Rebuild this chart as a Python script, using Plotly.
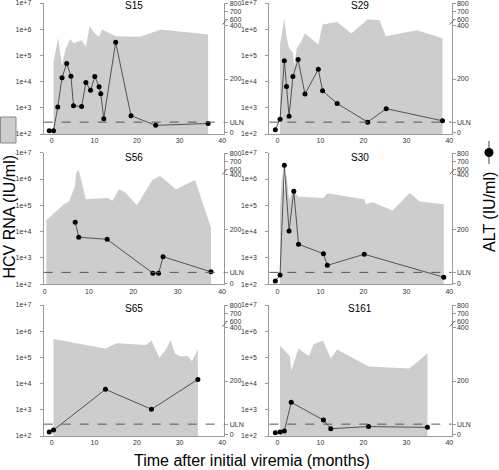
import plotly.graph_objects as go

# ---------------- data ----------------
patients = ["S15", "S29", "S56", "S30", "S65", "S161"]

S15_rna_t = [0.4, 1.5, 2.4, 3.2, 4.3, 5.1, 7.0, 8.0, 8.9, 10.1, 11.1, 11.8, 15.0, 20.8, 25.6, 36.7]
S15_rna = [5.8e4, 4.7e5, 4.3e4, 1.6e5, 4.2e5, 2.9e5, 3.8e5, 2.1e5, 1.3e6, 6.9e5, 5.1e5, 9.8e5, 5.4e5, 5.1e5, 9.8e5, 6.3e5]
S15_alt_t = [-0.6, 0.4, 1.4, 2.4, 3.5, 4.5, 5.1, 7.0, 8.0, 9.1, 10.1, 11.1, 11.5, 12.2, 15.0, 18.6, 24.4, 36.7]
S15_alt = [8, 8, 96, 205, 258, 210, 101, 98, 187, 158, 209, 171, 145, 53, 336, 64, 28, 35]

S29_rna_t = [0.6, 1.6, 2.1, 2.7, 3.6, 3.9, 4.5, 5.3, 6.4, 9.5, 10.5, 13.9, 17.2, 21.0, 23.8, 25.2, 32.4, 38.4]
S29_rna = [2.5e5, 2.6e6, 5.1e5, 1.9e5, 1.3e5, 4.0e4, 1.9e5, 2.9e5, 6.9e5, 2.6e5, 1.5e6, 1.9e6, 6.9e5, 2.4e6, 2.2e6, 5.4e5, 9.1e5, 4.5e5]
S29_alt_t = [-0.5, 0.6, 1.6, 2.1, 2.7, 3.6, 4.8, 6.4, 9.5, 10.5, 13.9, 21.0, 25.3, 38.4]
S29_alt = [12, 51, 268, 172, 62, 209, 272, 144, 236, 156, 109, 40, 90, 45]

S56_rna_t = [0.4, 4.4, 5.5, 6.8, 7.1, 7.7, 9.3, 14.2, 15.3, 16.8, 18.2, 20.8, 24.3, 26.0, 27.2, 29.6, 33.9, 37.5]
S56_rna = [2.8e4, 1.1e5, 1.4e5, 5.1e5, 1.7e6, 2.2e6, 1.7e5, 1.9e5, 1.5e5, 4.1e5, 3.1e5, 1.0e5, 9.1e5, 1.3e6, 9.1e5, 4.1e5, 9.1e5, 1.4e4]
S56_alt_t = [6.9, 7.7, 14.1, 24.4, 25.7, 26.7, 37.5]
S56_alt = [225, 170, 162, 37, 37, 98, 42]

S30_rna_t = [0.6, 1.1, 1.6, 2.1, 2.7, 3.6, 4.9, 10.7, 11.6, 20.2, 20.6, 22.2, 26.8, 30.8, 33.1, 38.7]
S30_rna = [7.8e4, 1.7e6, 3.3e5, 1.7e6, 1.6e5, 3.8e5, 2.1e5, 1.9e5, 2.9e5, 1.7e5, 1.1e5, 1.3e5, 6.3e4, 3.0e5, 1.4e5, 1.1e5]
S30_alt_t = [-0.5, 0.6, 1.6, 2.7, 3.8, 4.9, 10.7, 11.6, 20.2, 38.7]
S30_alt = [8, 30, 653, 193, 340, 144, 109, 66, 107, 22]

S65_rna_t = [0.4, 12.6, 15.2, 22.2, 23.4, 25.3, 26.8, 27.9, 28.9, 30.1, 32.0, 32.9, 34.3]
S65_rna = [5.0e5, 2.2e5, 3.5e5, 3.0e5, 4.4e5, 9.8e4, 2.0e5, 4.6e5, 1.4e5, 1.1e5, 1.1e5, 7.2e4, 2.0e5]
S65_alt_t = [-0.6, 0.4, 12.6, 23.4, 34.3]
S65_alt = [11, 18, 169, 95, 206]

S161_rna_t = [0.6, 2.9, 3.2, 4.9, 7.3, 8.4, 10.6, 12.4, 13.9, 21.2, 30.7, 34.9]
S161_rna = [2.8e5, 1.1e5, 3.1e4, 2.2e5, 1.1e5, 3.2e5, 4.4e5, 9.1e4, 2.0e5, 4.5e4, 3.8e4, 1.4e5]
S161_alt_t = [-0.5, 0.6, 1.6, 3.2, 10.7, 12.4, 21.2, 34.9]
S161_alt = [8, 11, 15, 121, 55, 23, 31, 28]

ULN = 40
rna_ticks = [1e2, 1e3, 1e4, 1e5, 1e6, 1e7]
rna_ticktext = ["1e+2", "1e+3", "1e+4", "1e+5", "1e+6", "1e+7"]
alt_ticks = [0, ULN, 200, 400, 600, 700, 800]
alt_ticktext = ["0", "ULN", "200", "400", "600", "700", "800"]
x_ticks = [0, 10, 20, 30, 40]

data = {
    "S15": (S15_rna_t, S15_rna, S15_alt_t, S15_alt),
    "S29": (S29_rna_t, S29_rna, S29_alt_t, S29_alt),
    "S56": (S56_rna_t, S56_rna, S56_alt_t, S56_alt),
    "S30": (S30_rna_t, S30_rna, S30_alt_t, S30_alt),
    "S65": (S65_rna_t, S65_rna, S65_alt_t, S65_alt),
    "S161": (S161_rna_t, S161_rna, S161_alt_t, S161_alt),
}

# ---------------- layout helpers ----------------
W, H = 499, 470
RNA_FLOOR = 1e2


def alt_pos(v):
    """broken ALT axis: linear 0-400, compressed 600-800"""
    return v if v <= 400 else 420 + (v - 600) * 0.3


ALT_RANGE = [-4, 482]

col_dom = [[43.7 / W, 224.3 / W], [269.3 / W, 451.5 / W]]
row_dom = [[1 - 134 / H, 1 - 3 / H], [1 - 284.3 / H, 1 - 152.7 / H], [1 - 436 / H, 1 - 305 / H]]
title_off = [2.5, 4.8, 3.2]
x_ranges = {"S56": [-0.2, 40.5]}

FONT = "Liberation Sans, Arial, sans-serif"
AXC = "#9a9a9a"
TXC = "#333333"

fig = go.Figure()
layout = dict(
    template="none",
    width=W, height=H, autosize=False,
    margin=dict(l=0, r=0, t=0, b=0, pad=0),
    paper_bgcolor="white", plot_bgcolor="white",
    showlegend=False,
    font=dict(family=FONT, size=7, color=TXC),
)
shapes = []
annotations = []

for i, name in enumerate(patients):
    k = i + 1
    ka = k + 6
    row, col = i // 2, i % 2
    rt, rv, at, av = data[name]
    xn = "x" if k == 1 else f"x{k}"
    yn = "y" if k == 1 else f"y{k}"
    yan = f"y{ka}"

    # RNA area (closed polygon down to axis floor)
    fig.add_trace(go.Scatter(
        x=[rt[0]] + rt + [rt[-1]],
        y=[RNA_FLOOR] + rv + [RNA_FLOOR],
        fill="toself", fillcolor="#cdcdcd", mode="lines",
        line=dict(width=0, color="#cdcdcd"),
        xaxis=xn, yaxis=yn, hoverinfo="skip",
    ))
    # ALT line
    fig.add_trace(go.Scatter(
        x=at, y=[alt_pos(v) for v in av],
        mode="lines+markers",
        line=dict(color="#444444", width=0.9),
        marker=dict(color="black", size=5),
        xaxis=xn, yaxis=yan,
    ))

    xkey = "xaxis" if k == 1 else f"xaxis{k}"
    ykey = "yaxis" if k == 1 else f"yaxis{k}"
    yakey = f"yaxis{ka}"
    layout[xkey] = dict(
        domain=col_dom[col], anchor=yn,
        range=x_ranges.get(name, [-1.9, 40.5]),
        tickvals=x_ticks, ticks="", showline=True, linecolor=AXC, linewidth=1,
        showgrid=False, zeroline=False, tickfont=dict(size=7, color=TXC),
        automargin=False, ticklabeloverflow="allow",
    )
    layout[ykey] = dict(
        domain=row_dom[row], anchor=xn, type="log", range=[2, 7],
        tickvals=rna_ticks, ticktext=rna_ticktext,
        ticks="outside", ticklen=3, tickcolor=AXC,
        showline=True, linecolor=AXC, linewidth=1, showgrid=False, zeroline=False,
        tickfont=dict(size=7, color=TXC), ticklabelstandoff=7, automargin=False,
        ticklabeloverflow="allow",
    )
    layout[yakey] = dict(
        overlaying=yn, anchor=xn, side="right", range=ALT_RANGE,
        tickvals=[alt_pos(v) for v in alt_ticks], ticktext=alt_ticktext,
        ticks="outside", ticklen=3, tickcolor=AXC,
        showline=True, linecolor=AXC, linewidth=1, showgrid=False, zeroline=False,
        tickfont=dict(size=7, color=TXC), automargin=False,
        ticklabeloverflow="allow",
    )
    # ULN dashed line
    shapes.append(dict(
        type="line", xref=f"{xn} domain", yref=yan, x0=0, x1=1,
        y0=alt_pos(ULN), y1=alt_pos(ULN),
        line=dict(color="#555555", width=1, dash="dash"), layer="above",
    ))
    # axis break mark
    shapes.append(dict(
        type="line", xref=f"{xn} domain", yref=yan, x0=0.99, x1=1.012,
        y0=402, y1=418, line=dict(color="#666666", width=1),
    ))
    # panel title
    annotations.append(dict(
        text=name, xref="paper", yref="paper",
        x=(col_dom[col][0] + col_dom[col][1]) / 2,
        y=row_dom[row][1] - title_off[row] / H, xanchor="center", yanchor="middle",
        showarrow=False, font=dict(size=10, color="black", family=FONT),
    ))

# axis titles
annotations.append(dict(
    text="HCV RNA (IU/ml)", xref="paper", yref="paper", x=8.5 / W, y=1 - 217 / H,
    textangle=-90, showarrow=False, xanchor="center", yanchor="middle",
    font=dict(size=16, color="black", family=FONT),
))
annotations.append(dict(
    text="ALT (IU/ml)", xref="paper", yref="paper", x=489 / W, y=1 - 212 / H,
    textangle=-90, showarrow=False, xanchor="center", yanchor="middle",
    font=dict(size=16, color="black", family=FONT),
))
annotations.append(dict(
    text="Time after initial viremia (months)", xref="paper", yref="paper",
    x=252 / W, y=1 - 460 / H, showarrow=False, xanchor="center", yanchor="middle",
    font=dict(size=16, color="black", family=FONT),
))

# legend symbols
shapes.append(dict(type="rect", xref="paper", yref="paper",
                   x0=0.5 / W, x1=16 / W, y0=1 - 143 / H, y1=1 - 117 / H,
                   fillcolor="#cdcdcd", line=dict(color="#8a8a8a", width=1)))
shapes.append(dict(type="line", xref="paper", yref="paper",
                   x0=489 / W, x1=489 / W, y0=1 - 164 / H, y1=1 - 141 / H,
                   line=dict(color="#444444", width=1)))
shapes.append(dict(type="circle", xref="paper", yref="paper",
                   x0=484.5 / W, x1=493.5 / W, y0=1 - 157 / H, y1=1 - 148 / H,
                   fillcolor="black", line=dict(color="black", width=0)))

layout["shapes"] = shapes
layout["annotations"] = annotations
fig.update_layout(**layout)
fig.write_html(
    "out.html",
    config={"displayModeBar": False},
    post_script="document.body.style.margin='0';document.body.style.overflow='hidden';",
)
